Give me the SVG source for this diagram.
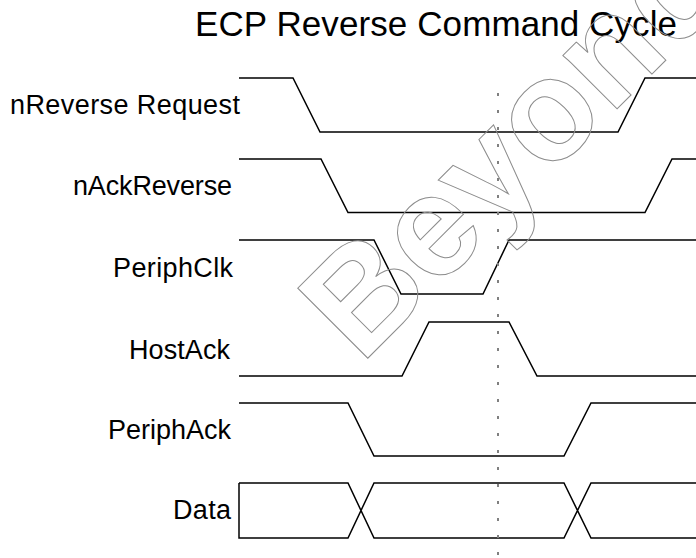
<svg xmlns="http://www.w3.org/2000/svg" width="696" height="558" viewBox="0 0 696 558">
  <style>
    .lbl { font-family: "Liberation Sans", Arial, sans-serif; font-size: 27px; fill: #000; }
    .title { font-family: "Liberation Sans", Arial, sans-serif; font-size: 35px; fill: #000; }
    .sig { fill: none; stroke: #000; stroke-width: 1.5; stroke-linejoin: miter; }
    .mark { fill: none; stroke: #808080; stroke-width: 2; stroke-dasharray: 3 14; }
    .wm { font-family: "Liberation Sans", Arial, sans-serif; font-size: 144px; font-weight: bold; fill: none; stroke: #8c8c8c; stroke-width: 1; }
  </style>
  <rect width="696" height="558" fill="#fff"/>

  <text class="title" x="195" y="36" textLength="482" lengthAdjust="spacing">ECP Reverse Command Cycle</text>

  <g id="nReverseRequest">
    <text class="lbl" x="10" y="114" textLength="230" lengthAdjust="spacing">nReverse Request</text>
    <path class="sig" d="M239,78 H293 L320,132 H618 L645,78 H696"/>
  </g>
  <g id="nAckReverse">
    <text class="lbl" x="73" y="195" textLength="159" lengthAdjust="spacing">nAckReverse</text>
    <path class="sig" d="M239,159 H321 L348,212.5 H645 L672,159 H696"/>
  </g>
  <g id="PeriphClk">
    <text class="lbl" x="113" y="277" textLength="120" lengthAdjust="spacing">PeriphClk</text>
    <path class="sig" d="M239,240 H374 L401,294 H483 L509,240 H696"/>
  </g>
  <g id="HostAck">
    <text class="lbl" x="129" y="358.5" textLength="101" lengthAdjust="spacing">HostAck</text>
    <path class="sig" d="M239,376 H402 L429,322 H509 L537,376 H696"/>
  </g>
  <g id="PeriphAck">
    <text class="lbl" x="108" y="439" textLength="123" lengthAdjust="spacing">PeriphAck</text>
    <path class="sig" d="M239,403 H348 L374,456 H564 L591,403 H696"/>
  </g>
  <g id="Data">
    <text class="lbl" x="173" y="519" textLength="58" lengthAdjust="spacing">Data</text>
    <path class="sig" d="M239,483 H348 L374,538 H564 L591,483 H696 M239,483 V538 H348 L374,483 H564 L591,538 H696"/>
  </g>

  <g id="connectors">
    <line class="mark" x1="498" y1="93" x2="498" y2="558"/>
  </g>

  <text class="wm" transform="translate(361,365) rotate(-45)" x="0" y="0">Beyond</text>
</svg>
